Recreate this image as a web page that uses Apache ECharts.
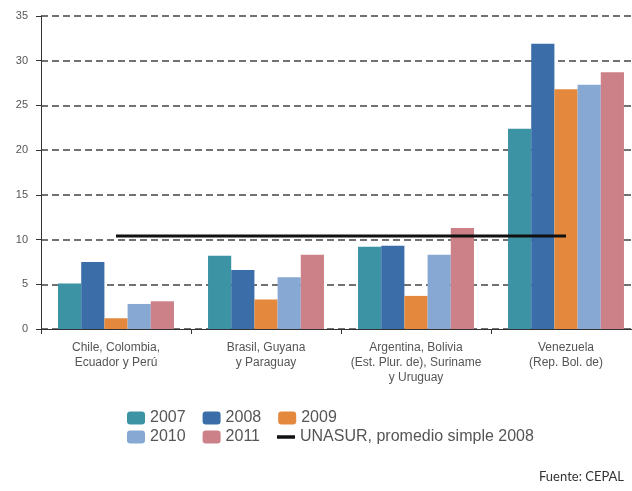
<!DOCTYPE html>
<html>
<head>
<meta charset="utf-8">
<script src="https://cdn.jsdelivr.net/npm/echarts@6/dist/echarts.min.js"></script>
<style>html,body{margin:0;padding:0;background:#fff;overflow:hidden;width:632px;height:491px;}#c{width:642px;height:491px;}</style>
</head>
<body>
<div id="c"></div>
<script>
const categories = ["Chile, Colombia,\nEcuador y Perú", "Brasil, Guyana\ny Paraguay", "Argentina, Bolivia\n(Est. Plur. de), Suriname\ny Uruguay", "Venezuela\n(Rep. Bol. de)"];
const yTicks = [0, 5, 10, 15, 20, 25, 30, 35];
const s2007 = [5.1, 8.2, 9.2, 22.4];
const s2008 = [7.5, 6.6, 9.3, 31.9];
const s2009 = [1.2, 3.3, 3.7, 26.8];
const s2010 = [2.8, 5.8, 8.3, 27.3];
const s2011 = [3.1, 8.3, 11.3, 28.7];
const unasur = [10.4, 10.4, 10.4, 10.4];
const unasurName = "UNASUR, promedio simple 2008";

const colors = {"2007": "#3b93a3", "2008": "#3b6ea9", "2009": "#e3883d", "2010": "#87a8d2", "2011": "#cc8087"};
function bar(name, data) {
  return {name: name, type: "bar", data: data, barGap: "0%", barCategoryGap: "22.7%",
    itemStyle: {color: colors[name]}, emphasis: {disabled: true}};
}
const chart = echarts.init(document.getElementById("c"));
const legendText = {fontFamily: "Liberation Sans, Arial, sans-serif", fontSize: 16, color: "#555"};
chart.setOption({
  animation: false,
  grid: {left: 41, right: 1, top: 16, bottom: 162},
  legend: [
    {left: 127, top: 410, padding: 0, itemWidth: 18, itemHeight: 13, itemGap: 17, textStyle: legendText,
     data: ["2007", "2008", "2009"]},
    {left: 127, top: 429, padding: 0, itemWidth: 18, itemHeight: 13, itemGap: 17, textStyle: legendText, symbolKeepAspect: true,
     data: ["2010", "2011", {name: unasurName, icon: "path://M0,0 L18,0 L18,3.5 L0,3.5 Z", itemStyle: {color: "#111"}}]}
  ],
  xAxis: {
    type: "category", data: categories,
    axisLine: {lineStyle: {color: "#333", width: 1}},
    axisTick: {show: true, length: 5, lineStyle: {color: "#333"}},
    axisLabel: {color: "#555", fontSize: 12, lineHeight: 15, margin: 11, interval: 0,
      fontFamily: "Liberation Sans, Arial, sans-serif"}
  },
  yAxis: {
    type: "value", min: yTicks[0], max: yTicks[yTicks.length - 1], interval: 5,
    axisLine: {show: true, lineStyle: {color: "#333", width: 1}},
    axisTick: {show: true, length: 5, lineStyle: {color: "#333"}},
    axisLabel: {color: "#555", fontSize: 11, margin: 13, fontFamily: "Liberation Sans, Arial, sans-serif"},
    splitLine: {show: true, lineStyle: {color: "#444", width: 1.5, type: [7, 4]}}
  },
  series: [
    bar("2007", s2007), bar("2008", s2008), bar("2009", s2009), bar("2010", s2010), bar("2011", s2011),
    {name: unasurName, type: "line", data: unasur, symbol: "none", showSymbol: false, z: 5,
     lineStyle: {color: "#111", width: 3}, itemStyle: {color: "#111"}, emphasis: {disabled: true}}
  ],
  graphic: [{type: "text", left: 539, top: 470,
    style: {text: "Fuente: CEPAL", fontFamily: "Lato, sans-serif", fontSize: 13, fill: "#333"}}]
});
</script>
</body>
</html>
